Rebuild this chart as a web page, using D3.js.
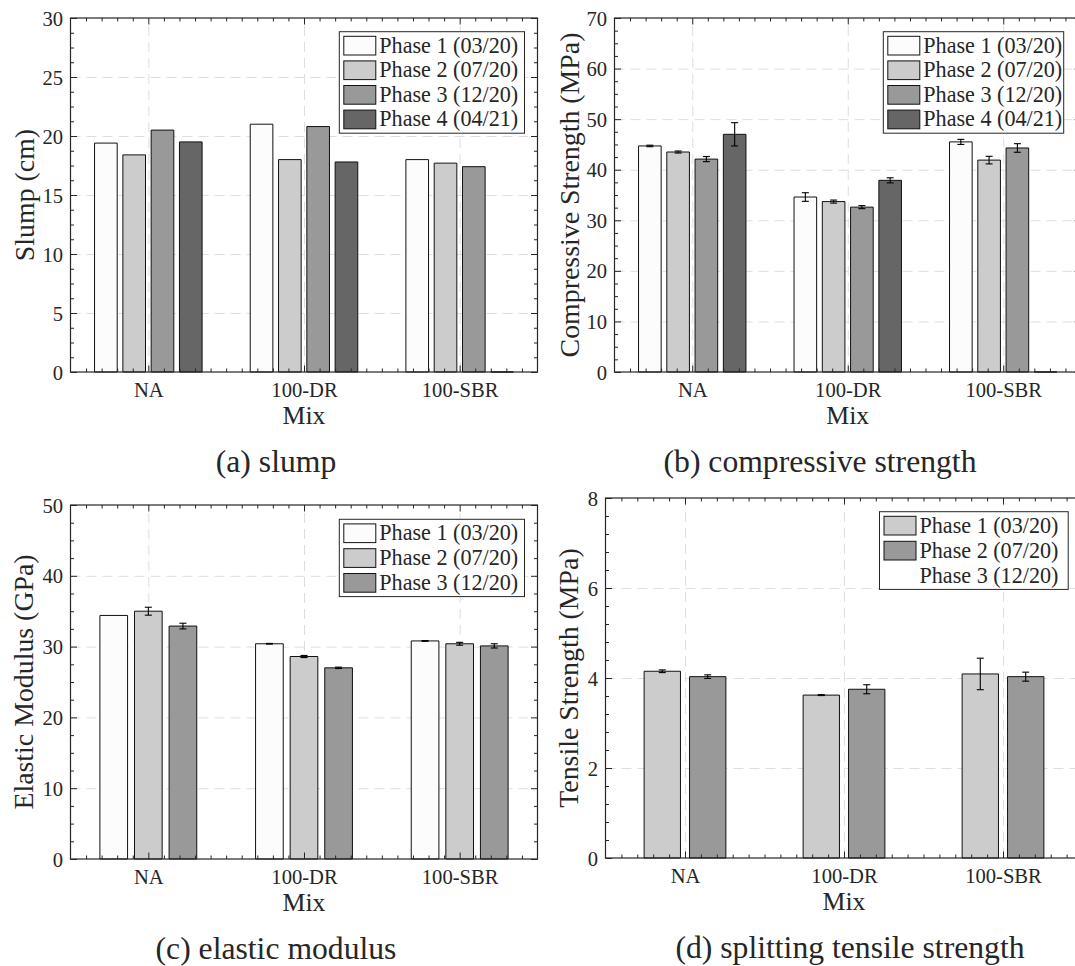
<!DOCTYPE html>
<html><head><meta charset="utf-8">
<script src="https://cdn.jsdelivr.net/npm/d3@7"></script>
<style>
body{margin:0;background:#fff;font-family:"Liberation Serif","DejaVu Serif","Times New Roman",Tinos,"Nimbus Roman","FreeSerif",serif}
svg text{font-family:"Liberation Serif","DejaVu Serif","Times New Roman",Tinos,"Nimbus Roman","FreeSerif",serif !important;fill:#262626}
</style>
</head><body>
<svg id="chart" width="1075" height="966" font-family="Liberation Serif, DejaVu Serif, serif"></svg>
<script>
// ---------------- DATA ----------------
const mixes = ["NA", "100-DR", "100-SBR"];
const phaseLabels = ["Phase 1 (03/20)", "Phase 2 (07/20)", "Phase 3 (12/20)", "Phase 4 (04/21)"];

// slump (cm): one array per phase, values per mix
const slumpPhase1 = [19.4, 21.0, 18.0];
const slumpPhase2 = [18.4, 18.0, 17.7];
const slumpPhase3 = [20.5, 20.8, 17.4];
const slumpPhase4 = [19.5, 17.8, 0];

// compressive strength (MPa)
const compPhase1 = [44.7, 34.6, 45.5];
const compPhase2 = [43.5, 33.7, 41.9];
const compPhase3 = [42.1, 32.6, 44.3];
const compPhase4 = [47.0, 37.9, 0];
const compErr1 = [0.15, 0.85, 0.5];
const compErr2 = [0.2, 0.3, 0.75];
const compErr3 = [0.5, 0.3, 0.85];
const compErr4 = [2.3, 0.5, 0];

// elastic modulus (GPa)
const elasPhase1 = [34.4, 30.4, 30.8];
const elasPhase2 = [35.0, 28.6, 30.4];
const elasPhase3 = [32.9, 27.0, 30.1];
const elasErr1 = [0.0, 0.05, 0.05];
const elasErr2 = [0.56, 0.15, 0.2];
const elasErr3 = [0.4, 0.1, 0.3];

// splitting tensile strength (MPa)
const tensPhase1 = [4.15, 3.62, 4.09];
const tensPhase2 = [4.03, 3.75, 4.03];
const tensErr1 = [0.03, 0.01, 0.35];
const tensErr2 = [0.04, 0.1, 0.1];

const slumpTicks = [0, 5, 10, 15, 20, 25, 30];
const compTicks = [0, 10, 20, 30, 40, 50, 60, 70];
const elasTicks = [0, 10, 20, 30, 40, 50];
const tensTicks = [0, 2, 4, 6, 8];

// ---------------- STYLE / LAYOUT ----------------
const gray = ["#fcfcfc", "#cccccc", "#999999", "#666666"];
const axisColor = "#262626";
const FONT = '"Liberation Serif","DejaVu Serif","Times New Roman",serif';

const svg = d3.select("#chart");

// font sizing from target text widths (font independent)
function fitSize(sample, targetWidth) {
  const t = svg.append("text").attr("font-family", FONT).attr("font-size", 100).text(sample);
  const w = t.node().getComputedTextLength();
  t.remove();
  return 100 * targetWidth / w;
}
const fsTick = fitSize("100-SBR", 76.7);
const fsLegend = fitSize("Phase 1 (03/20)", 139);
const fsYLabel = fitSize("Compressive Strength (MPa)", 325);
const fsMix = fitSize("Mix", 43);
const fsCaption = fitSize("(b) compressive strength", 313);

const panels = [
  { x0: 70.5, x1: 537.5, y0: 18, y1: 372, ticks: slumpTicks, minor: 1.25,
    series: [slumpPhase1, slumpPhase2, slumpPhase3, slumpPhase4], errors: null,
    colors: gray, legend: phaseLabels, legendColors: gray,
    legendBox: { x0: 339.3, x1: 524.5, y0: 31.7, pitch: 24.6 },
    ylabel: "Slump (cm)", ylabelX: 24, caption: "(a) slump", captionX: 276 },
  { x0: 614.5, x1: 1081, y0: 18, y1: 372, ticks: compTicks, minor: 2.5,
    series: [compPhase1, compPhase2, compPhase3, compPhase4], errors: [compErr1, compErr2, compErr3, compErr4],
    colors: gray, legend: phaseLabels, legendColors: gray,
    legendBox: { x0: 883.3, x1: 1063.7, y0: 31.7, pitch: 24.6 },
    ylabel: "Compressive Strength (MPa)", ylabelX: 569.5, caption: "(b) compressive strength", captionX: 820 },
  { x0: 70.5, x1: 537.5, y0: 505, y1: 859, ticks: elasTicks, minor: 2.5,
    series: [elasPhase1, elasPhase2, elasPhase3], errors: [elasErr1, elasErr2, elasErr3],
    colors: gray, legend: phaseLabels.slice(0, 3), legendColors: gray,
    legendBox: { x0: 339.3, x1: 524.5, y0: 519.3, pitch: 24.8 },
    ylabel: "Elastic Modulus (GPa)", ylabelX: 23.5, caption: "(c) elastic modulus", captionX: 276 },
  { x0: 605.5, x1: 1082.5, y0: 498, y1: 858, ticks: tensTicks, minor: 0.4,
    series: [tensPhase1, tensPhase2], errors: [tensErr1, tensErr2],
    colors: [gray[1], gray[2]], legend: phaseLabels.slice(0, 3), legendColors: [gray[1], gray[2], null],
    legendBox: { x0: 879.5, x1: 1068.2, y0: 511.7, pitch: 25 },
    ylabel: "Tensile Strength (MPa)", ylabelX: 567.8, caption: "(d) splitting tensile strength", captionX: 850 }
];

panels.forEach(p => {
  const g = svg.append("g");
  const x = d3.scaleLinear().domain([0.5, 3.5]).range([p.x0, p.x1]);
  const yMax = p.ticks[p.ticks.length - 1];
  const y = d3.scaleLinear().domain([0, yMax]).range([p.y1, p.y0]);
  const W = p.x1 - p.x0, H = p.y1 - p.y0;
  const cats = [1, 2, 3];
  const minorY = d3.range(0, yMax + 1e-9, p.minor).filter(v => !p.ticks.some(t => Math.abs(t - v) < 1e-9));
  const minorX = d3.range(0.6, 3.45, 0.1).filter(v => Math.abs(v - Math.round(v)) > 1e-6);

  // grid
  const gridStyle = s => s.call(a => a.select(".domain").remove())
    .selectAll("line").attr("stroke", "#dedede").attr("stroke-width", 1).attr("stroke-dasharray", "10,6");
  g.append("g").attr("transform", `translate(${p.x0},0)`)
    .call(d3.axisLeft(y).tickValues(p.ticks.filter(t => t > 0 && t < yMax)).tickSize(-W).tickFormat(""))
    .call(gridStyle);
  g.append("g").attr("transform", `translate(0,${p.y1})`)
    .call(d3.axisBottom(x).tickValues(cats).tickSize(-H).tickFormat(""))
    .call(gridStyle);

  // bars
  const n = p.series.length;
  const gw = Math.min(0.8, n / (n + 1.5));
  const bw = 0.8 * gw / n;
  p.series.forEach((vals, s) => {
    vals.forEach((v, i) => {
      const c = i + 1 + (s - (n - 1) / 2) * gw / n;
      const xa = x(c - bw / 2), xb = x(c + bw / 2), ya = y(v), yb = y(0);
      g.append("path")
        .attr("d", `M${xa},${yb}V${ya}H${xb}V${yb}Z`)
        .attr("fill", p.colors[s]).attr("stroke", "#111").attr("stroke-width", 1);
      if (p.errors && p.errors[s][i] > 0) {
        const e = p.errors[s][i], xc = x(c);
        const eg = g.append("g").attr("stroke", "#000").attr("stroke-width", 1.1);
        eg.append("line").attr("x1", xc).attr("x2", xc).attr("y1", y(v - e)).attr("y2", y(v + e));
        eg.append("line").attr("x1", xc - 3.5).attr("x2", xc + 3.5).attr("y1", y(v - e)).attr("y2", y(v - e));
        eg.append("line").attr("x1", xc - 3.5).attr("x2", xc + 3.5).attr("y1", y(v + e)).attr("y2", y(v + e));
      }
    });
  });

  // axes: major ticks (inward) + labels
  const tickStyle = s => s.call(a => a.select(".domain").remove())
    .selectAll("line").attr("stroke", axisColor).attr("stroke-width", 1);
  const yAx = g.append("g").attr("transform", `translate(${p.x0},0)`)
    .call(d3.axisLeft(y).tickValues(p.ticks).tickSize(-6.5).tickPadding(7.5).tickFormat(d3.format("d")))
    .call(tickStyle);
  yAx.attr("font-family", FONT);
  yAx.selectAll("text").attr("font-family", FONT).attr("font-size", fsTick).attr("fill", axisColor).attr("dy", "0.34em");
  const xAx = g.append("g").attr("transform", `translate(0,${p.y1})`)
    .call(d3.axisBottom(x).tickValues(cats).tickSize(-6.5).tickPadding(0).tickFormat(d => mixes[d - 1]))
    .call(tickStyle);
  xAx.attr("font-family", FONT);
  xAx.selectAll("text").attr("font-family", FONT).attr("font-size", fsTick).attr("fill", axisColor).attr("dy", null).attr("y", 25);
  // mirrored axes
  g.append("g").attr("transform", `translate(0,${p.y0})`)
    .call(d3.axisTop(x).tickValues(cats).tickSize(-6.5).tickFormat("")).call(tickStyle);
  g.append("g").attr("transform", `translate(${p.x1},0)`)
    .call(d3.axisRight(y).tickValues(p.ticks).tickSize(-6.5).tickFormat("")).call(tickStyle);
  // minor ticks
  g.append("g").attr("transform", `translate(${p.x0},0)`)
    .call(d3.axisLeft(y).tickValues(minorY).tickSize(-3.5).tickFormat("")).call(tickStyle);
  g.append("g").attr("transform", `translate(${p.x1},0)`)
    .call(d3.axisRight(y).tickValues(minorY).tickSize(-3.5).tickFormat("")).call(tickStyle);
  g.append("g").attr("transform", `translate(0,${p.y1})`)
    .call(d3.axisBottom(x).tickValues(minorX).tickSize(-3.5).tickFormat("")).call(tickStyle);
  g.append("g").attr("transform", `translate(0,${p.y0})`)
    .call(d3.axisTop(x).tickValues(minorX).tickSize(-3.5).tickFormat("")).call(tickStyle);

  // box
  g.append("rect").attr("x", p.x0).attr("y", p.y0).attr("width", W).attr("height", H)
    .attr("fill", "none").attr("stroke", axisColor).attr("stroke-width", 1.2);

  // legend
  const lb = p.legendBox;
  const nL = p.legend.length;
  const sw = 32, sh = 18.7, top = 4.6;
  const boxH = top + (nL - 1) * lb.pitch + sh + 4.4;
  const lg = g.append("g");
  lg.append("rect").attr("x", lb.x0).attr("y", lb.y0).attr("width", lb.x1 - lb.x0).attr("height", boxH)
    .attr("fill", "#fff").attr("stroke", axisColor).attr("stroke-width", 1);
  p.legend.forEach((lab, k) => {
    const sy = lb.y0 + top + k * lb.pitch;
    if (p.legendColors[k]) {
      lg.append("rect").attr("x", lb.x0 + 4.5).attr("y", sy).attr("width", sw).attr("height", sh)
        .attr("fill", p.legendColors[k]).attr("stroke", "#111").attr("stroke-width", 1);
    }
    lg.append("text").attr("x", lb.x0 + 4.5 + sw + 3.5).attr("y", sy + sh / 2 + 7)
      .attr("font-family", FONT).attr("font-size", fsLegend).text(lab);
  });

  // labels
  g.append("text").attr("transform", `translate(${p.ylabelX},${(p.y0 + p.y1) / 2}) rotate(-90)`)
    .attr("text-anchor", "middle").attr("dy", "0.35em").attr("font-family", FONT).attr("font-size", fsYLabel)
    .text(p.ylabel);
  g.append("text").attr("x", (p.x0 + p.x1) / 2).attr("y", p.y1 + 52)
    .attr("text-anchor", "middle").attr("font-family", FONT).attr("font-size", fsMix).text("Mix");
  g.append("text").attr("x", p.captionX).attr("y", p.y1 + 100)
    .attr("text-anchor", "middle").attr("font-family", FONT).attr("font-size", fsCaption).text(p.caption);
});
</script>
</body></html>
